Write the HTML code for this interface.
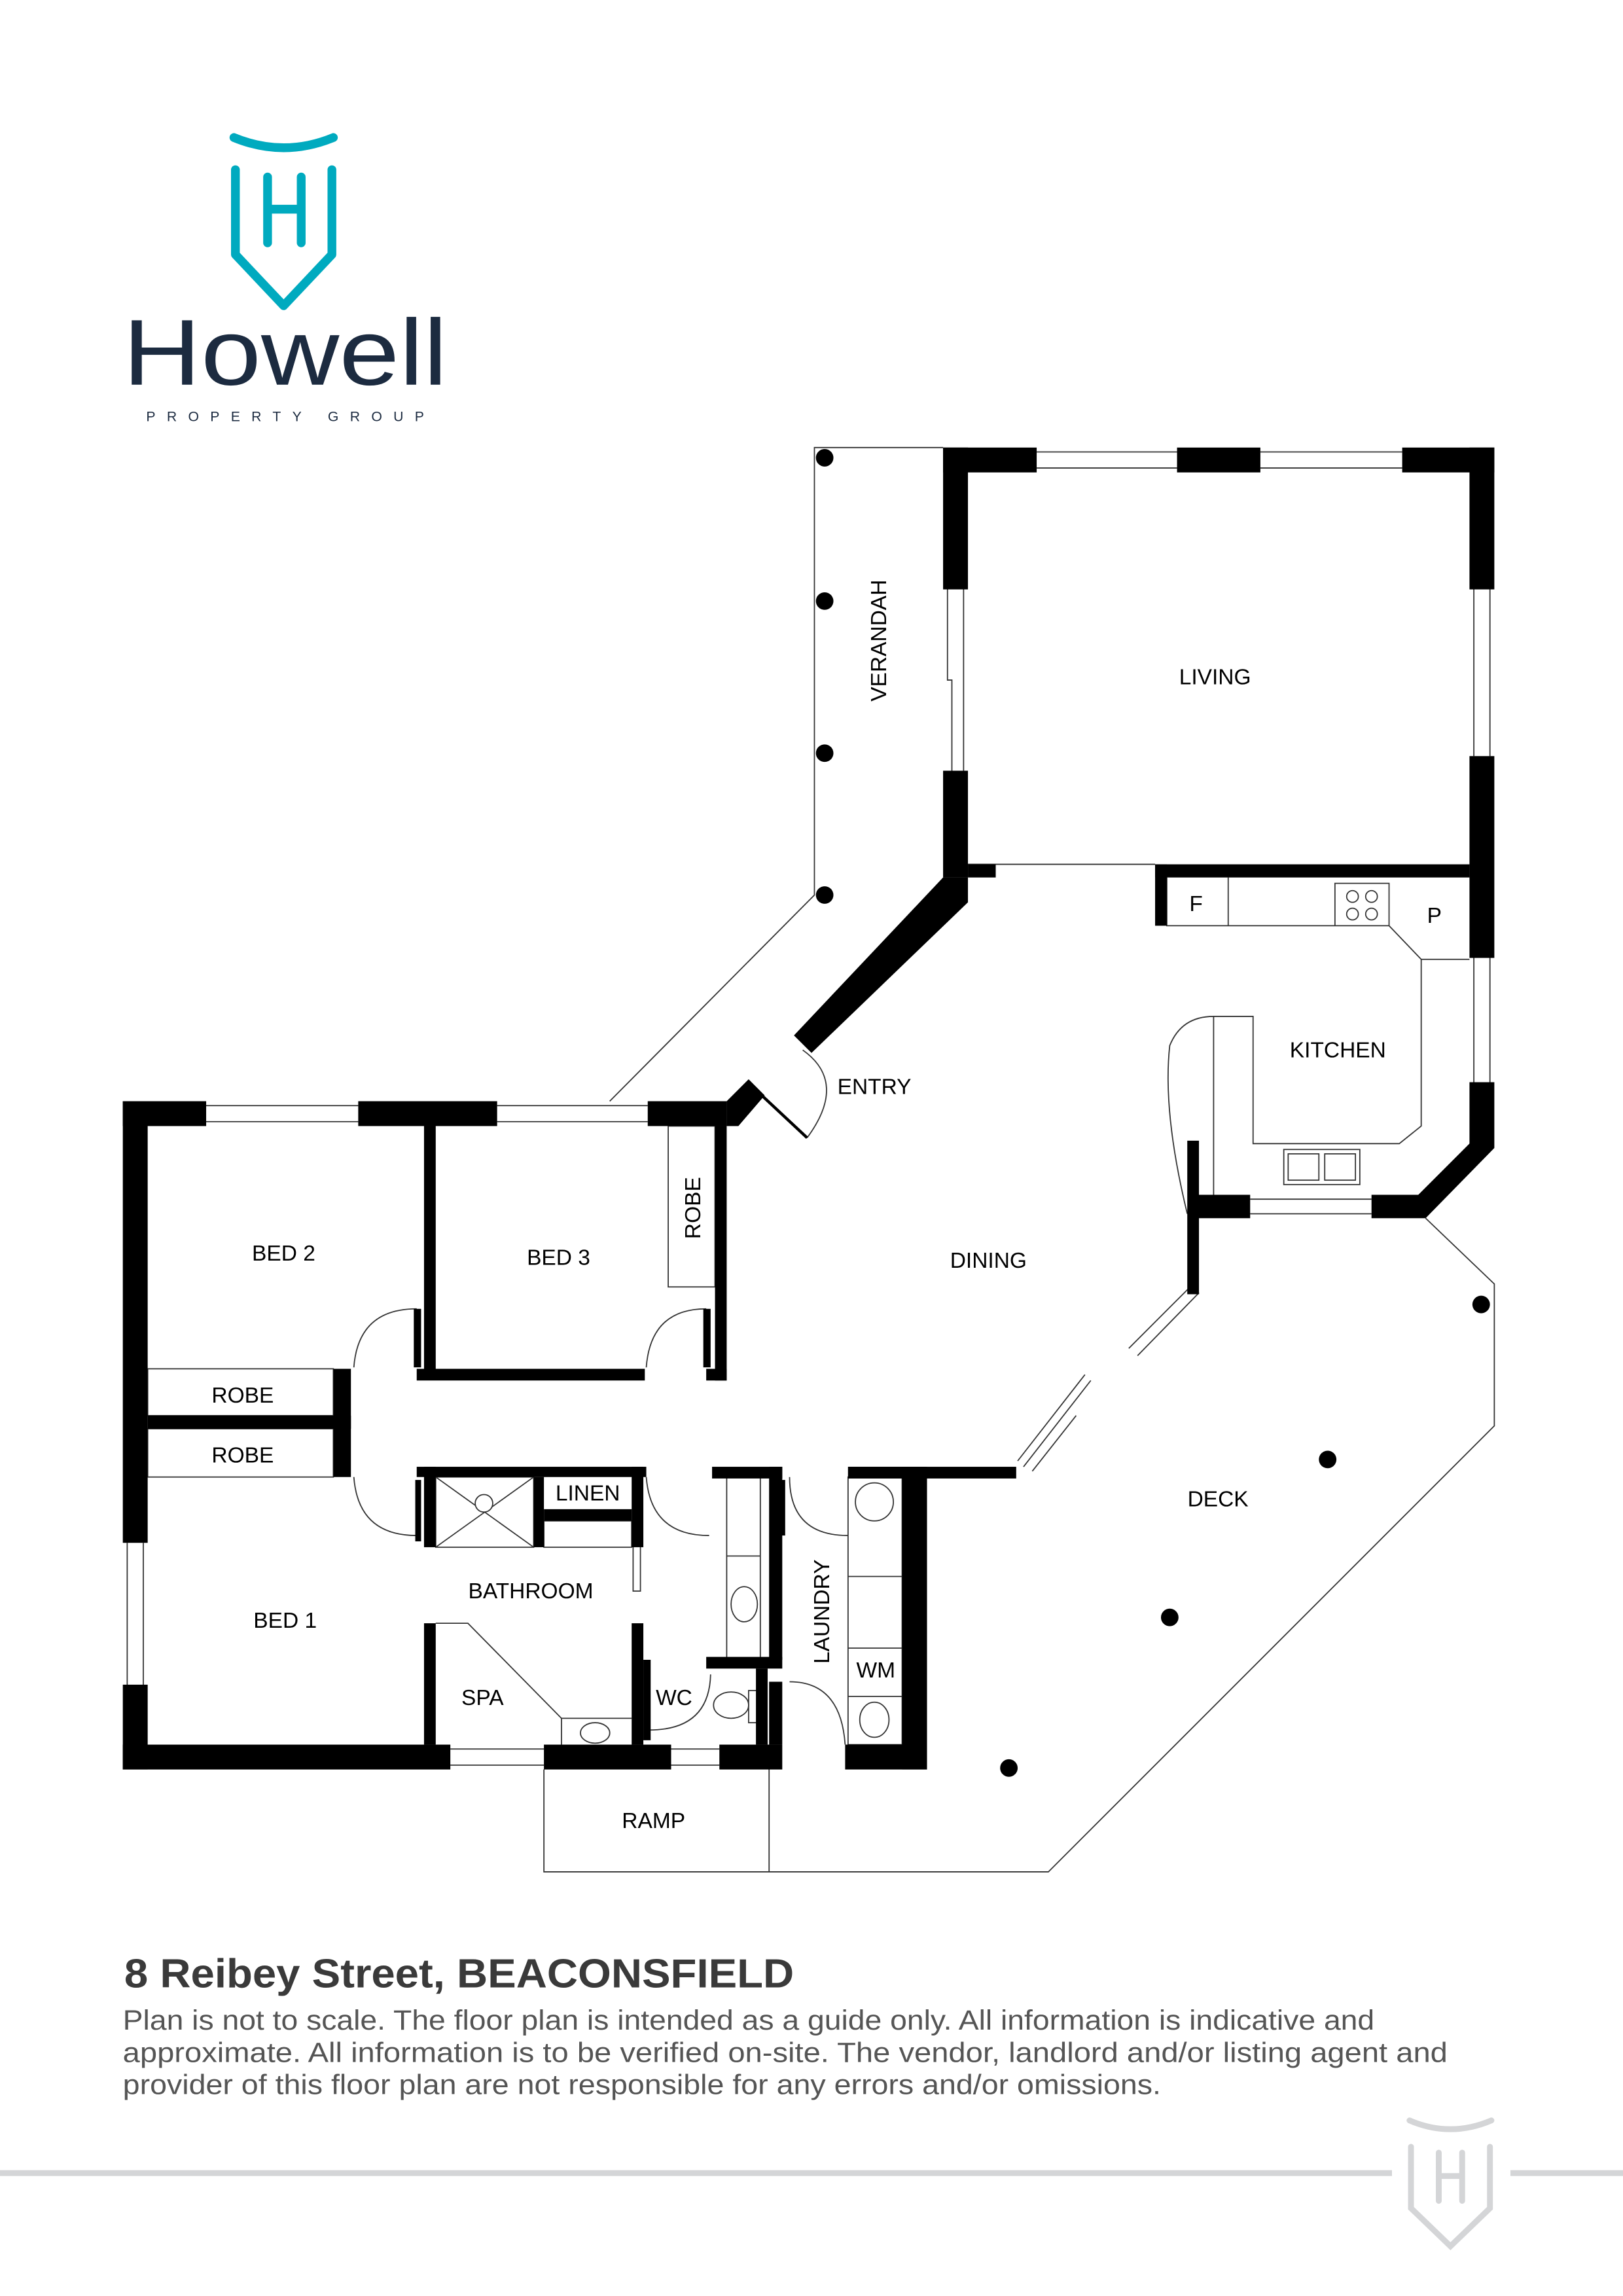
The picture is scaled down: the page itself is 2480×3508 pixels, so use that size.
<!DOCTYPE html>
<html><head><meta charset="utf-8"><style>html,body{margin:0;padding:0;background:#fff}svg{display:block}</style></head><body>
<svg width="2480" height="3508" viewBox="0 0 1110 1570" xmlns="http://www.w3.org/2000/svg" font-family="Liberation Sans, Arial, sans-serif">
<rect width="1110" height="1570" fill="#fff"/>
<g fill="none" stroke="#00aabf" stroke-width="6" stroke-linecap="round" stroke-linejoin="round">
<path d="M160 94 Q194 108 228 94"/>
<path d="M161 116 V174 L194 209 L227 174 V116"/>
<path d="M183 121 V166 M206 121 V166 M183 143 H206"/>
</g>
<text x="84" y="263" font-size="64" fill="#1c2b40" textLength="222" lengthAdjust="spacingAndGlyphs">Howell</text>
<text x="100" y="288" font-size="9.5" fill="#1c2b40" textLength="190" lengthAdjust="spacing">PROPERTY GROUP</text>

<g fill="none" stroke="#333" stroke-width="0.8">
<path d="M645 306 H557 V612 L417 753"/>
<path d="M975 833 L1022 878 V975 L717 1280 H372 V1210"/>
<path d="M526 1210 V1280"/>
<path d="M662 591 H790"/>
<path d="M709 309 H805 M709 320 H805 M862 309 H959 M862 320 H959"/>
<path d="M1008 403 V517 M1019 403 V517 M1008 655 V740 M1019 655 V740"/>
<path d="M648 403 V465 L651 465 V527 M659 403 V527"/>
<path d="M141 756 H245 M141 767 H245 M340 756 H443 M340 767 H443"/>
<path d="M87 1055 V1152 M98 1055 V1152"/>
<path d="M308 1196 H372 M308 1207 H372 M459 1196 H492 M459 1207 H492"/>
<path d="M855 820 H938 M855 830 H938"/>
<path d="M798 600 V633 H913 M840 600 V633 M913 604 H950 V633 H913 Z M950 633 L972 656 H1005 M972 656 V770 L957 782 H857 V695 H830 V818 M830 695 Q808 695 800 715 Q795 760 812 830"/>
<circle cx="925" cy="613" r="4"/><circle cx="938" cy="613" r="4"/><circle cx="925" cy="625" r="4"/><circle cx="938" cy="625" r="4"/>
<rect x="878" y="786" width="52" height="24"/><rect x="881" y="789" width="21" height="18"/><rect x="906" y="789" width="21" height="18"/>
<rect x="457" y="770" width="32" height="110"/>
<rect x="101" y="936" width="127" height="32"/>
<rect x="101" y="977" width="127" height="33"/>
<rect x="298" y="1010" width="67" height="48"/><path d="M298 1010 L365 1058 M365 1010 L298 1058"/><circle cx="331" cy="1028" r="6" fill="#fff"/>
<rect x="372" y="1040" width="60" height="18"/>
<path d="M298 1110 H320 L384 1175 H432 M384 1175 V1193"/>
<ellipse cx="407" cy="1185" rx="10" ry="7"/>
<rect x="497" y="1010" width="23" height="125"/><path d="M497 1064 H520"/><ellipse cx="509" cy="1097" rx="9" ry="12"/>
<ellipse cx="500" cy="1166" rx="12" ry="9"/><rect x="512" y="1156" width="8" height="22"/>
<rect x="580" y="1010" width="37" height="183"/><path d="M580 1078 H617 M580 1127 H617 M580 1160 H617"/><circle cx="598" cy="1027" r="13"/><ellipse cx="598" cy="1176" rx="10" ry="12"/>
<rect x="433" y="1046" width="5" height="42"/>
<path d="M772 922 L815 879 M778 927 L820 884 M700 1003 L746 944 M696 999 L742 940 M706 1006 L736 968"/>
<path d="M552 778 Q580 740 549 718"/>
<path d="M285 895 Q245 895 242 935"/><path d="M483 895 Q445 895 442 935"/>
<path d="M242 1010 Q245 1050 285 1050"/><path d="M442 1010 Q445 1050 485 1050"/><path d="M540 1010 Q540 1050 580 1050"/><path d="M540 1150 Q575 1150 578 1193"/><path d="M444 1183 Q485 1183 486 1145"/>
</g>
<line x1="522" y1="750" x2="552" y2="778" stroke="#000" stroke-width="2"/>

<g fill="#000">
<rect x="645" y="306" width="64" height="17"/><rect x="805" y="306" width="57" height="17"/><rect x="959" y="306" width="63" height="17"/>
<rect x="645" y="306" width="17" height="97"/><rect x="645" y="527" width="17" height="73"/>
<rect x="1005" y="306" width="17" height="97"/><rect x="1005" y="517" width="17" height="138"/><rect x="1005" y="740" width="17" height="45"/>
<rect x="790" y="591" width="215" height="9"/><rect x="662" y="591" width="19" height="9"/><rect x="790" y="591" width="8" height="42"/>
<polygon points="645,600 662,600 662,617 555,720 543,708"/>
<polygon points="938,817 970,817 1005,782 1022,785 975,833 938,833"/>
<rect x="817" y="817" width="38" height="16"/>
<rect x="812" y="780" width="8" height="105"/>
<rect x="580" y="1003" width="115" height="8"/>
<rect x="84" y="753" width="57" height="17"/><rect x="245" y="753" width="95" height="17"/><rect x="443" y="753" width="54" height="17"/>
<polygon points="497,753 512,738 523,749 505,770 497,770"/>
<rect x="84" y="753" width="17" height="302"/><rect x="84" y="1152" width="17" height="58"/>
<rect x="84" y="1193" width="224" height="17"/><rect x="372" y="1193" width="87" height="17"/><rect x="492" y="1193" width="43" height="17"/>
<rect x="578" y="1193" width="56" height="17"/>
<rect x="290" y="770" width="8" height="173"/><rect x="283" y="895" width="5" height="40"/>
<rect x="285" y="936" width="156" height="8"/><rect x="483" y="936" width="14" height="8"/>
<rect x="489" y="770" width="8" height="174"/><rect x="481" y="895" width="5" height="40"/>
<rect x="101" y="968" width="139" height="9"/><rect x="228" y="936" width="12" height="74"/>
<rect x="285" y="1003" width="157" height="7"/><rect x="290" y="1003" width="8" height="55"/><rect x="284" y="1012" width="4" height="42"/>
<rect x="365" y="1010" width="7" height="48"/><rect x="372" y="1032" width="60" height="8"/><rect x="432" y="1003" width="8" height="55"/>
<rect x="290" y="1110" width="8" height="83"/><rect x="432" y="1110" width="8" height="83"/><rect x="440" y="1135" width="5" height="55"/>
<rect x="487" y="1003" width="48" height="8"/><rect x="526" y="1003" width="9" height="132"/><rect x="483" y="1133" width="52" height="8"/><rect x="517" y="1141" width="8" height="52"/><rect x="526" y="1150" width="9" height="43"/>
<rect x="533" y="1012" width="4" height="38"/>
<rect x="617" y="1003" width="17" height="207"/><rect x="580" y="1003" width="54" height="8"/>
<circle cx="564" cy="313" r="6"/><circle cx="564" cy="411" r="6"/><circle cx="564" cy="515" r="6"/><circle cx="564" cy="612" r="6"/>
<circle cx="1013" cy="892" r="6"/><circle cx="908" cy="998" r="6"/><circle cx="800" cy="1106" r="6"/><circle cx="690" cy="1209" r="6"/>
</g>

<g font-size="15" fill="#000" text-anchor="middle">
<text x="831" y="468">LIVING</text>
<text x="915" y="723">KITCHEN</text>
<text x="818" y="623">F</text>
<text x="981" y="631">P</text>
<text x="598" y="748">ENTRY</text>
<text x="676" y="867">DINING</text>
<text x="833" y="1030">DECK</text>
<text x="194" y="862">BED 2</text>
<text x="382" y="865">BED 3</text>
<text x="166" y="959">ROBE</text>
<text x="166" y="1000">ROBE</text>
<text x="402" y="1026">LINEN</text>
<text x="363" y="1093">BATHROOM</text>
<text x="195" y="1113">BED 1</text>
<text x="330" y="1166">SPA</text>
<text x="461" y="1166">WC</text>
<text x="599" y="1147">WM</text>
<text x="447" y="1250">RAMP</text>
<text transform="translate(606,438) rotate(-90)">VERANDAH</text>
<text transform="translate(479,826) rotate(-90)">ROBE</text>
<text transform="translate(567,1102) rotate(-90)">LAUNDRY</text>
</g>

<text x="85" y="1359" font-size="28" font-weight="bold" fill="#3a3a3a" textLength="458" lengthAdjust="spacingAndGlyphs">8 Reibey Street, BEACONSFIELD</text>
<g font-size="19" fill="#555">
<text x="84" y="1388" textLength="856" lengthAdjust="spacingAndGlyphs">Plan is not to scale. The floor plan is intended as a guide only. All information is indicative and</text>
<text x="84" y="1410" textLength="906" lengthAdjust="spacingAndGlyphs">approximate. All information is to be verified on-site.  The vendor, landlord and/or listing agent and</text>
<text x="84" y="1432" textLength="710" lengthAdjust="spacingAndGlyphs">provider of this floor plan are not responsible for any errors and/or omissions.</text>
</g>
<rect x="0" y="1484" width="952" height="4" fill="#d4d5d7"/>
<rect x="1033" y="1484" width="77" height="4" fill="#d4d5d7"/>
<g fill="none" stroke="#d4d5d7" stroke-width="4" stroke-linecap="round">
<path d="M964 1450 Q992 1462 1020 1450"/>
<path d="M965 1468 V1510 L992 1536 L1019 1510 V1468"/>
<path d="M984 1472 V1505 M1000 1472 V1505 M984 1488 H1000"/>
</g>
</svg>
</body></html>
